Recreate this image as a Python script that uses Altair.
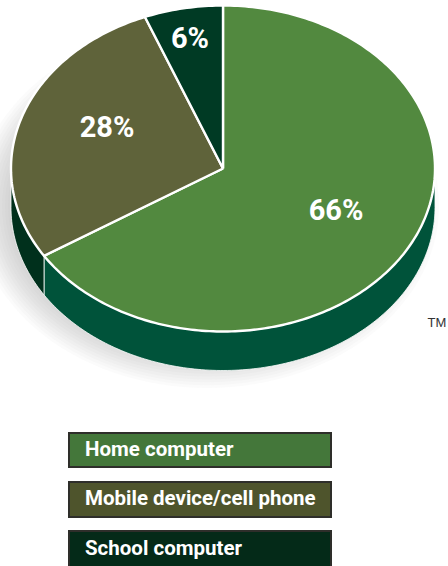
import math
import altair as alt
import pandas as pd

# Survey shares, clockwise from twelve o'clock
categories = ["Home computer", "Mobile device/cell phone", "School computer"]
shares = [66, 28, 6]
share_labels = ["66%", "28%", "6%"]
top_colors = ["#52893f", "#5f633a", "#003a24"]
legend_colors = ["#44773a", "#4e542c", "#042a18"]
wall_colors = ["#00533a", "#00301c", "#00301c"]

# Pie geometry in plot units
W, H = 448, 566
CX, CY, RX, RY = 223, 168.5, 212, 163
DEPTH = 39
label_x = [336, 107, 190]
label_y = [211, 128, 39]

x_scale = alt.Scale(domain=[0, W], nice=False, zero=False)
y_scale = alt.Scale(domain=[H, 0], nice=False, zero=False)
X = alt.X("x:Q", scale=x_scale, axis=None)
Y = alt.Y("y:Q", scale=y_scale, axis=None)


def point(deg, dy=0.0, cx=CX, cy=CY, rx=RX, ry=RY):
    a = math.radians(deg)
    return cx + rx * math.sin(a), cy - ry * math.cos(a) + dy


def outline(points):
    return pd.DataFrame([{"x": p[0], "y": p[1], "i": i} for i, p in enumerate(points)])


def steps(a, b):
    n = max(2, int(abs(b - a)) + 1)
    return [a + (b - a) * k / n for k in range(n + 1)]


def polygon(points, **style):
    closed = list(points) + [points[0]]
    return (
        alt.Chart(outline(closed))
        .mark_line(clip=True, **style)
        .encode(x=X, y=Y, order=alt.Order("i:Q"))
    )


layers = []

# Soft drop shadow built from nested translucent ellipses
for k in range(14):
    grow = 20 - k * 3
    ring = [point(d, cx=207, cy=206, rx=RX + grow, ry=RY + grow * 0.95) for d in range(0, 360, 3)]
    layers.append(polygon(ring, fill="#8e8f92", fillOpacity=0.04, strokeWidth=0, stroke="#ffffff", strokeOpacity=0))

# Slice boundaries in degrees
edges = [0.0]
for s in shares:
    edges.append(edges[-1] + s * 3.6)

# Side wall: only the front half of the rim is visible
for i in range(len(shares)):
    a, b = max(edges[i], 90.0), min(edges[i + 1], 270.0)
    if b <= a:
        continue
    front = [point(d) for d in steps(a, b)]
    back = [point(d, DEPTH) for d in steps(b, a)]
    layers.append(polygon(front + back, fill=wall_colors[i], stroke="#ffffff", strokeWidth=0.8))

# Top face
for i in range(len(shares)):
    arc = [point(d) for d in steps(edges[i], edges[i + 1])]
    layers.append(
        polygon([(CX, CY)] + arc, fill=top_colors[i], stroke="#ffffff", strokeWidth=2.4, strokeJoin="round")
    )

# Percentage labels
layers.append(
    alt.Chart(pd.DataFrame({"x": label_x, "y": label_y, "t": share_labels}))
    .mark_text(font="Roboto", fontWeight="bold", fontSize=29, color="#ffffff")
    .encode(x=X, y=Y, text="t:N")
)

# Trademark note
layers.append(
    alt.Chart(pd.DataFrame({"x": [437], "y": [323], "t": ["TM"]}))
    .mark_text(font="Liberation Sans", fontSize=13, color="#333333")
    .encode(x=X, y=Y, text="t:N")
)

# Legend boxes
legend = pd.DataFrame(
    {
        "x": [69] * 3,
        "x2": [331] * 3,
        "y": [433, 482, 531],
        "y2": [467, 517, 570],
        "name": categories,
        "tx": [85] * 3,
        "ty": [450, 499, 549],
        "color": legend_colors,
    }
)
layers.append(
    alt.Chart(legend)
    .mark_rect(stroke="#2e2e2a", strokeWidth=2, clip=True)
    .encode(x=X, x2="x2:Q", y=Y, y2="y2:Q", fill=alt.Fill("color:N", scale=None))
)
layers.append(
    alt.Chart(legend)
    .mark_text(font="Roboto", fontWeight="bold", fontSize=20.5, color="#ffffff", align="left")
    .encode(x=alt.X("tx:Q", scale=x_scale, axis=None), y=alt.Y("ty:Q", scale=y_scale, axis=None), text="name:N")
)

chart = (
    alt.layer(*layers)
    .properties(width=W, height=H, padding=0, autosize=alt.AutoSizeParams(type="none"), background="#ffffff")
    .configure_view(stroke=None)
)
chart.save("out.html", embed_options={"renderer": "svg", "actions": False})
